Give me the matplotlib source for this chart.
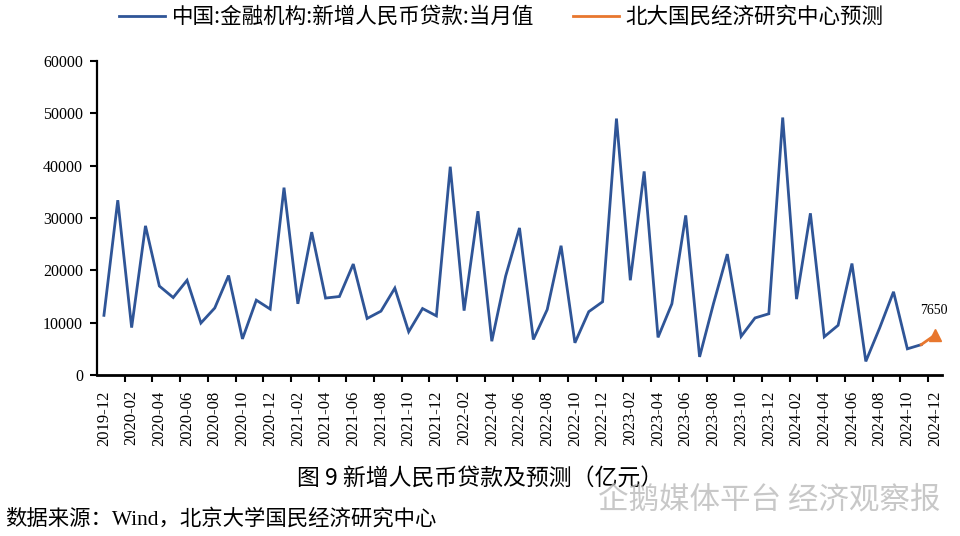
import matplotlib
matplotlib.use("Agg")
import matplotlib.pyplot as plt
import numpy as np
import pandas as pd

# ---- data ----
months = [p.strftime("%Y-%m") for p in pd.period_range("2019-12", "2024-12", freq="M")]
loans = [11400,
         33400, 9057, 28500, 17000, 14800, 18100, 9927, 12800, 19000, 6898, 14300, 12600,
         35800, 13600, 27300, 14700, 15000, 21200, 10800, 12200, 16600, 8262, 12700, 11300,
         39800, 12300, 31300, 6454, 18900, 28100, 6790, 12500, 24700, 6152, 12100, 14000,
         49000, 18100, 38900, 7188, 13600, 30500, 3459, 13600, 23100, 7384, 10900, 11700,
         49200, 14500, 30900, 7300, 9500, 21300, 2600, 9000, 15900, 5000, 5800]
forecast_months = ["2024-11", "2024-12"]
forecast_vals = [5800, 7650]
series_names = ["中国:金融机构:新增人民币贷款:当月值", "北大国民经济研究中心预测"]
y_ticks = [0, 10000, 20000, 30000, 40000, 50000, 60000]

BLUE = "#2F5597"
ORANGE = "#E8772E"
CJK = ["Noto Sans CJK SC", "DejaVu Sans"]
SERIF_CJK = ["Liberation Serif", "Noto Sans CJK SC"]

fig = plt.figure(figsize=(9.6, 5.36), dpi=100)
ax = fig.add_axes([97/960, 1-375/536, (942-97)/960, (375-61)/536])

x = np.arange(len(loans))
l1, = ax.plot(x, loans, color=BLUE, lw=2.0, solid_joinstyle="miter")
fx = [months.index(m) for m in forecast_months]
l2, = ax.plot(fx, forecast_vals, color=ORANGE, lw=2.0)
ax.plot(fx[-1], forecast_vals[-1], marker="^", color=ORANGE, ms=8, ls="none")
ax.text(fx[-1] - 0.1, forecast_vals[-1] + 3500, f"{forecast_vals[-1]}", ha="center",
        va="bottom", fontsize=10, family="Liberation Serif")

ax.set_xlim(-0.5, len(months) - 0.5)
ax.set_ylim(0, 60000)
ax.set_yticks(y_ticks)
ax.set_yticklabels([str(v) for v in y_ticks], family="Liberation Serif", fontsize=11.5)
ax.set_xticks(np.arange(0, len(months), 2))
ax.set_xticklabels(months[::2], rotation=90, family="Liberation Serif", fontsize=12)
ax.set_xticks(np.arange(1.5, len(months), 2), minor=True)
ax.tick_params(axis="x", which="major", length=0, pad=11)
ax.tick_params(axis="x", which="minor", length=5, width=1.5, direction="out")
ax.tick_params(axis="y", length=5, width=1.5, direction="out", pad=5)
for s in ["top", "right"]:
    ax.spines[s].set_visible(False)
ax.spines["left"].set_linewidth(1.6)
ax.spines["bottom"].set_linewidth(2.0)

# legend
leg = fig.legend([l1, l2], series_names, loc="center", bbox_to_anchor=(0.522, 0.968),
                 ncol=2, frameon=False, handlelength=2.15, columnspacing=1.8,
                 prop={"family": CJK, "size": 15.5}, handletextpad=0.3)

fig.text(0.5, 1-478/536, "图 9 新增人民币贷款及预测（亿元）", ha="center", va="center",
         fontsize=16.5, family=CJK)
fig.text(5/960, 1-519/536, "数据来源：Wind，北京大学国民经济研究中心", ha="left", va="center",
         fontsize=15.4, family=SERIF_CJK)
fig.text(940/960, 1-500/536, "企鹅媒体平台 经济观察报", ha="right", va="center",
         fontsize=22, family=CJK, color="#bbbbbb", alpha=0.8)

fig.savefig("out.png", dpi=100)
